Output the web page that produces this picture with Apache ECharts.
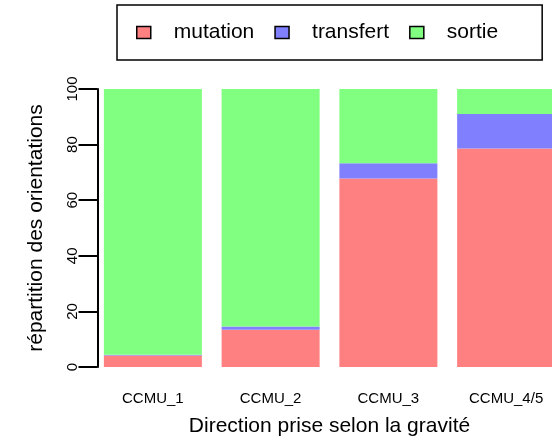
<!DOCTYPE html>
<html>
<head>
<meta charset="utf-8">
<script src="https://cdn.jsdelivr.net/npm/echarts@6/dist/echarts.min.js"></script>
<style>
  html, body { margin: 0; padding: 0; background: #fff; }
  #chart { width: 552px; height: 447px; }
</style>
</head>
<body>
<div id="chart"></div>
<script>
// données (%)
var categories = ['CCMU_1', 'CCMU_2', 'CCMU_3', 'CCMU_4/5'];
var mutation = [4.1, 13.4, 67.8, 78.6];
var transfert = [0.3, 1.2, 5.5, 12.4];
var sortie = [95.6, 85.4, 26.7, 9.0];

var font = 'Liberation Sans, Arial, Helvetica, sans-serif';

var chart = echarts.init(document.getElementById('chart'));

var option = {
  animation: false,
  textStyle: { fontFamily: font, color: '#000' },
  legend: {
    left: 117,
    top: 5,
    padding: [17, 44, 17, 19],
    borderColor: '#000',
    borderWidth: 1.5,
    itemGap: 20,
    itemWidth: 14,
    itemHeight: 12,
    icon: 'rect',
    itemStyle: { borderColor: '#000', borderWidth: 1.5 },
    textStyle: { fontFamily: font, fontSize: 21, color: '#000', padding: [0, 0, 0, 18] },
    data: ['mutation', 'transfert', 'sortie']
  },
  grid: {
    left: 94,
    top: 89,
    bottom: 80,
    width: 471,
    outerBoundsMode: 'none',
    containLabel: false
  },
  xAxis: {
    type: 'category',
    data: categories,
    axisLine: { show: false },
    axisTick: { show: false },
    axisLabel: { fontSize: 15, color: '#000', margin: 24, fontFamily: font },
    name: 'Direction prise selon la gravité',
    nameLocation: 'middle',
    nameGap: 49,
    nameTextStyle: { fontSize: 21, color: '#000', fontFamily: font }
  },
  yAxis: {
    type: 'value',
    min: 0,
    max: 100,
    interval: 20,
    offset: -3.5,
    splitLine: { show: false },
    axisLine: { show: true, lineStyle: { color: '#000', width: 2 } },
    axisTick: { show: true, length: 19, lineStyle: { color: '#000', width: 2 } },
    axisLabel: { fontSize: 15, color: '#000', rotate: 90, margin: 17, fontFamily: font },
    name: 'répartition des orientations',
    nameLocation: 'middle',
    nameRotate: 90,
    nameGap: 51,
    nameTextStyle: { fontSize: 21, color: '#000', fontFamily: font }
  },
  series: [
    {
      name: 'mutation',
      type: 'bar',
      stack: 'total',
      barWidth: 98,
      itemStyle: { color: '#ff8080' },
      data: mutation
    },
    {
      name: 'transfert',
      type: 'bar',
      stack: 'total',
      barWidth: 98,
      itemStyle: { color: '#8080ff' },
      data: transfert
    },
    {
      name: 'sortie',
      type: 'bar',
      stack: 'total',
      barWidth: 98,
      itemStyle: { color: '#80ff80' },
      data: sortie
    }
  ]
};

chart.setOption(option);
</script>
</body>
</html>
